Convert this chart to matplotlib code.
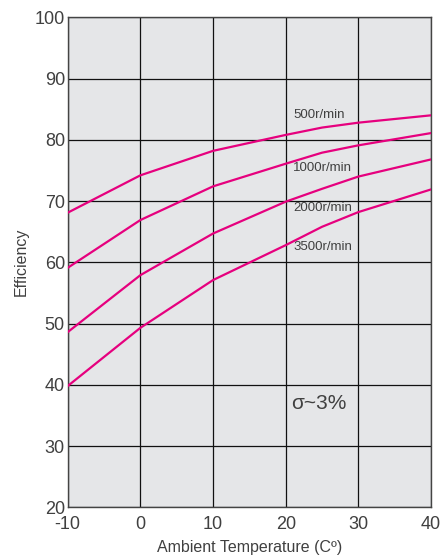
import numpy as np
import matplotlib
matplotlib.use("Agg")
import matplotlib.pyplot as plt

plt.rcParams['font.family'] = ['Liberation Sans', 'DejaVu Sans']
plt.rcParams['axes.unicode_minus'] = False

# ambient temperature points (C)
temps = [-10, 0, 10, 20, 25, 30, 40]

# efficiency curves per speed
eff_500 = [68.1, 74.2, 78.2, 80.8, 82.0, 82.8, 84.0]
eff_1000 = [59.1, 66.9, 72.4, 76.1, 77.9, 79.1, 81.1]
eff_2000 = [48.6, 57.9, 64.7, 69.9, 72.0, 74.0, 76.8]
eff_3500 = [39.8, 49.3, 57.1, 62.8, 65.8, 68.2, 71.9]

series = [eff_500, eff_1000, eff_2000, eff_3500]
labels = ['500r/min', '1000r/min', '2000r/min', '3500r/min']
label_y = [84.0, 75.4, 68.9, 62.5]

x_ticks = [-10, 0, 10, 20, 30, 40]
y_ticks = [20, 30, 40, 50, 60, 70, 80, 90, 100]

text_col = '#404040'
line_col = '#e6007e'

fig = plt.figure(figsize=(4.43, 5.59), dpi=100)
ax = fig.add_axes([0.1528, 0.0925, 0.8202, 0.8765])
ax.set_facecolor('#e5e6e8')

for vals in series:
    ax.plot(temps, vals, color=line_col, lw=1.6, solid_joinstyle='miter', zorder=3)

for lab, ly in zip(labels, label_y):
    ax.text(21.0, ly, lab, fontsize=9.5, color=text_col, va='center', ha='left', zorder=4)

ax.text(20.8, 36.9, 'σ~3%', fontsize=15, color=text_col, va='center', ha='left')

ax.set_xlim(-10, 40)
ax.set_ylim(20, 100)
ax.set_xticks(x_ticks)
ax.set_yticks(y_ticks)
ax.grid(True, color='#111111', lw=0.9, zorder=1)
ax.set_axisbelow(True)
ax.tick_params(length=0, labelsize=13, colors=text_col)
ax.tick_params(axis='x', pad=6)
ax.tick_params(axis='y', pad=2)
for s in ax.spines.values():
    s.set_color('#444444')
    s.set_linewidth(1.0)

ax.set_xlabel('Ambient Temperature (Cº)', fontsize=11.5, color=text_col, labelpad=5)
ax.set_ylabel('Efficiency', fontsize=11.5, color=text_col, labelpad=4)

fig.savefig('out.png', dpi=100)
